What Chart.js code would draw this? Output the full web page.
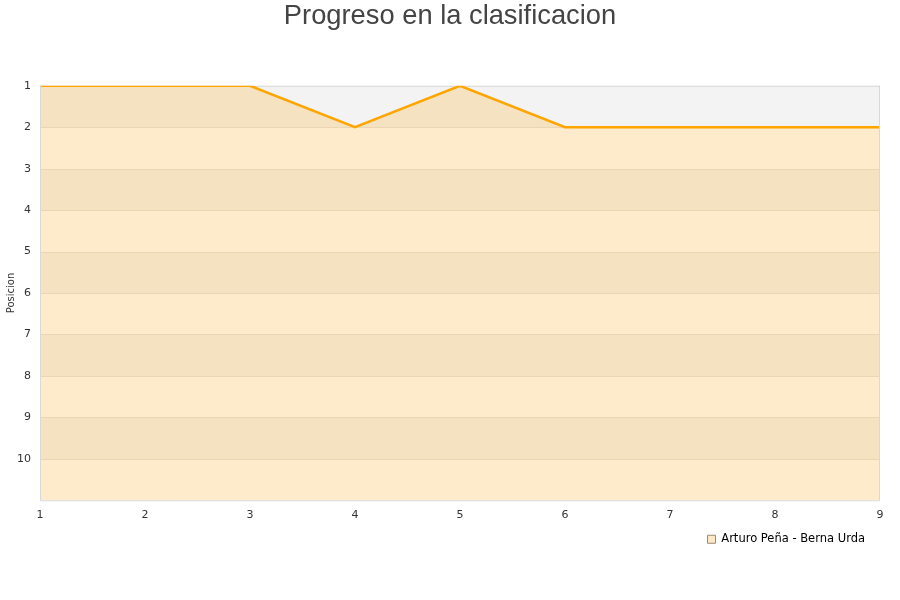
<!DOCTYPE html>
<html>
<head>
<meta charset="utf-8">
<script src="https://cdn.jsdelivr.net/npm/chart.js@4/dist/chart.umd.min.js"></script>
<style>
  html, body { margin: 0; padding: 0; background: #fff; }
  #wrap { width: 900px; height: 600px; }
</style>
</head>
<body>
<div id="wrap"><canvas id="chart"></canvas></div>
<script>
// jornadas y posiciones
const jornadas = ['1', '2', '3', '4', '5', '6', '7', '8', '9'];
const posiciones = [1, 1, 1, 2, 1, 2, 2, 2, 2];
const pareja = 'Arturo Peña - Berna Urda';
const posMin = 1;
const posMax = 11;

const bandDark = '#f5e2c1';
const bandLight = '#feebcb';
const gridColor = '#ead6b4';
const borderColor = '#d8d8d8';

// bandas alternas (solo debajo de la linea) hechas con un degradado
function bandFill(ctx) {
  const chart = ctx.chart;
  const area = chart.chartArea;
  if (!area) return bandDark;
  const y = chart.scales.y;
  const top = Math.round(area.top);
  const h = Math.round(area.bottom) - top;
  const g = chart.ctx.createLinearGradient(0, top, 0, top + h);
  const f = px => Math.min(1, Math.max(0, (Math.round(px) - top) / h));
  for (let p = posMin; p < posMax; p++) {
    const a = f(y.getPixelForValue(p));
    const b = f(y.getPixelForValue(p + 1));
    const c = (p - posMin) % 2 === 0 ? bandDark : bandLight;
    const line = p > posMin ? gridColor : c;
    g.addColorStop(a, line);
    g.addColorStop(Math.min(1, a + 1 / h), line);
    g.addColorStop(Math.min(1, a + 1.05 / h), c);
    g.addColorStop(b, c);
  }
  return g;
}

const areaBg = {
  id: 'areaBg',
  afterLayout(chart) {
    // leyenda un poco mas a la izquierda
    chart.legend.right -= 11;
  },
  beforeDatasetsDraw(chart) {
    const { ctx, chartArea: a } = chart;
    ctx.save();
    ctx.fillStyle = '#f3f3f3';
    ctx.fillRect(a.left, a.top, a.right - a.left, a.bottom - a.top);
    ctx.strokeStyle = borderColor;
    ctx.lineWidth = 1;
    ctx.beginPath();
    ctx.moveTo(a.left, a.top + 0.5);
    ctx.lineTo(a.right, a.top + 0.5);
    ctx.stroke();
    ctx.restore();
  },
  afterDatasetsDraw(chart) {
    const { ctx, chartArea: a } = chart;
    ctx.save();
    ctx.strokeStyle = borderColor;
    ctx.lineWidth = 1;
    ctx.beginPath();
    ctx.moveTo(a.left + 0.5, a.top);
    ctx.lineTo(a.left + 0.5, a.bottom + 0.5);
    ctx.lineTo(a.right - 0.5, a.bottom + 0.5);
    ctx.lineTo(a.right - 0.5, a.top);
    ctx.stroke();
    ctx.restore();
  }
};

new Chart(document.getElementById('chart'), {
  type: 'line',
  data: {
    labels: jornadas,
    datasets: [{
      label: pareja,
      data: posiciones,
      borderColor: '#ffa500',
      borderWidth: 2.5,
      backgroundColor: bandFill,
      fill: 'start',
      pointRadius: 0,
      tension: 0
    }]
  },
  options: {
    responsive: true,
    maintainAspectRatio: false,
    animation: false,
    layout: { padding: { left: 0, right: 0, top: 0, bottom: 45 } },
    plugins: {
      title: {
        display: true,
        text: 'Progreso en la clasificacion',
        color: '#444',
        font: { family: 'Liberation Sans', size: 27.3, weight: 'normal' },
        padding: { top: 0, bottom: 53 }
      },
      legend: {
        position: 'bottom',
        align: 'end',
        fullSize: false,
        labels: {
          color: '#222',
          font: { family: 'DejaVu Sans', size: 11.5 },
          boxWidth: 8,
          boxHeight: 8,
          padding: 4,
          generateLabels: chart => [{
            text: pareja,
            fillStyle: '#fde9c6',
            strokeStyle: '#9a8a70',
            lineWidth: 1,
            datasetIndex: 0
          }]
        }
      },
      tooltip: { enabled: false }
    },
    scales: {
      x: {
        offset: false,
        grid: { display: false, drawTicks: false },
        border: { display: false },
        ticks: { color: '#333', font: { family: 'DejaVu Sans', size: 11 }, padding: 8, maxRotation: 0 }
      },
      y: {
        reverse: true,
        min: posMin,
        max: posMax,
        grid: { display: false, drawTicks: false },
        border: { display: false },
        afterFit: s => { s.width = 40; },
        title: {
          display: true,
          text: 'Posicion',
          color: '#333',
          font: { family: 'DejaVu Sans', size: 10 },
          padding: { top: 5, bottom: 0 }
        },
        ticks: {
          stepSize: 1,
          color: '#333',
          font: { family: 'DejaVu Sans', size: 11 },
          padding: 9,
          callback: v => (v < posMax ? v : '')
        }
      },
      // margen derecho
      y2: {
        position: 'right',
        display: true,
        grid: { display: false, drawTicks: false },
        border: { display: false },
        ticks: { display: false },
        afterFit: s => { s.width = 20; }
      }
    }
  },
  plugins: [areaBg]
});
</script>
</body>
</html>
